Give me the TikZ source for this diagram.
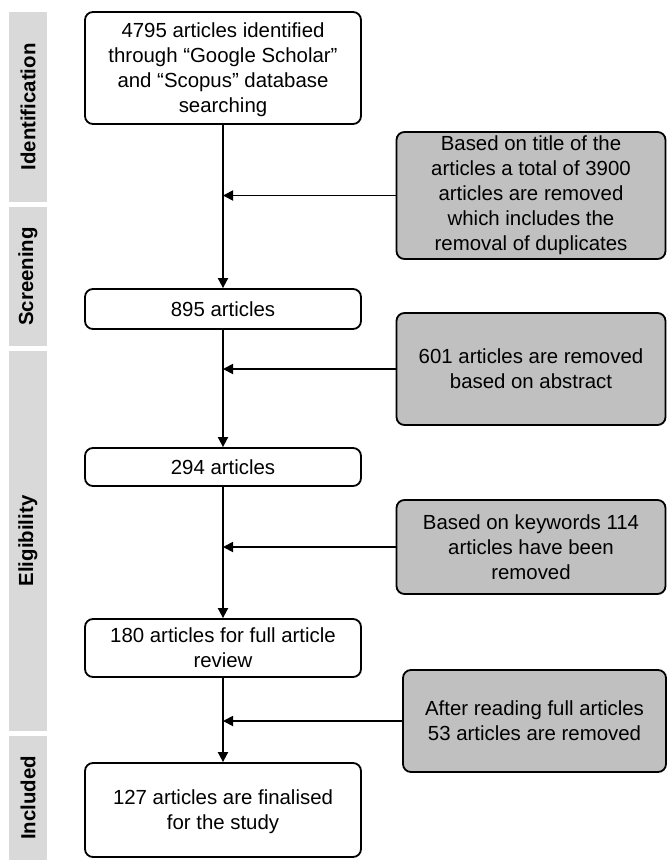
\documentclass[tikz,border=0pt]{standalone}
\usepackage{fontspec}
\setmainfont{Liberation Sans}
\usetikzlibrary{arrows.meta}
\definecolor{boxgray}{RGB}{192,192,192}
\definecolor{bargray}{RGB}{217,217,217}
\begin{document}
\begin{tikzpicture}[x=1pt,y=-1pt,
  every node/.style={font=\fontsize{20.4}{25}\selectfont, align=center, inner sep=2pt},
  mainbox/.style={draw=black, line width=1.8pt, rounded corners=8pt, fill=white, minimum width=276, text depth=0pt},
  sidebox/.style={draw=black, line width=1.8pt, rounded corners=8pt, fill=boxgray, minimum width=269},
  phase/.style={fill=bargray, rotate=90, minimum height=38, font=\fontsize{20.4}{25}\selectfont\bfseries},
  flow/.style={line width=1.8pt, -{Triangle[length=10pt,width=10pt]}}
]
\useasboundingbox (0,0) rectangle (667,860);
\fill[white] (0,0) rectangle (667,860);

% phase bars
\node[phase, minimum width=190] (p1) at (28,107) {Identification};
\node[phase, minimum width=139] (p2) at (28,276.5) {Screening};
\node[phase, minimum width=380] (p3) at (28,541) {Eligibility};
\node[phase, minimum width=124] (p4) at (28,798) {Included};

% main boxes
\node[mainbox, minimum height=112] (b1) at (223,68) {4795 articles identified\\through “Google Scholar”\\and “Scopus” database\\searching};
\node[mainbox, minimum height=40] (b2) at (223,309) {895 articles};
\node[mainbox, minimum height=38] (b3) at (223,467) {294 articles};
\node[mainbox, minimum height=58] (b4) at (223,648) {180 articles for full article\\review};
\node[mainbox, minimum height=94] (b5) at (223,810) {127 articles are finalised\\for the study};

% side boxes
\node[sidebox, minimum height=127] (g1) at (531,195.5) {Based on title of the\\articles a total of 3900\\articles are removed\\which includes the\\removal of duplicates};
\node[sidebox, minimum height=112] (g2) at (531,369) {601 articles are removed\\based on abstract};
\node[sidebox, minimum height=94] (g3) at (531,547) {Based on keywords 114\\articles have been\\removed};
\node[sidebox, minimum height=102, minimum width=263] (g4) at (534.5,721) {After reading full articles\\53 articles are removed};

% vertical flow
\draw[flow] (b1.south) -- (b2.north);
\draw[flow] (b2.south) -- (b3.north);
\draw[flow] (b3.south) -- (b4.north);
\draw[flow] (b4.south) -- (b5.north);

% side arrows
\draw[flow] (g1.west) -- (g1.west -| b1.south);
\draw[flow] (g2.west) -- (g2.west -| b1.south);
\draw[flow] (g3.west) -- (g3.west -| b1.south);
\draw[flow] (g4.west) -- (g4.west -| b1.south);
\end{tikzpicture}
\end{document}
